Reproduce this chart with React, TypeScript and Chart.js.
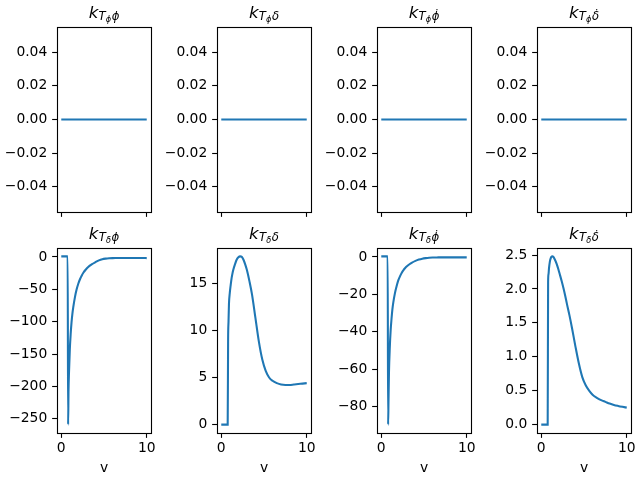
import React, { useEffect, useRef } from "react";
import { Chart, registerables } from "chart.js";

Chart.register(...registerables);

// ---------- data ----------
const V = [0, 0.5, 0.75, 0.8, 0.85, 0.9, 1.0, 1.1, 1.2, 1.3, 1.4, 1.6, 1.8, 2.0, 2.2, 2.4, 2.6, 2.8, 3.0, 3.3, 3.6, 4.0, 4.4, 4.8, 5.2, 5.6, 6.0, 6.5, 7.0, 7.5, 8.0, 8.5, 9.0, 9.5, 10];

const K_TPHI_PHI = [0, 0, 0, 0, 0, 0, 0, 0, 0, 0, 0, 0, 0, 0, 0, 0, 0, 0, 0, 0, 0, 0, 0, 0, 0, 0, 0, 0, 0, 0, 0, 0, 0, 0, 0];
const K_TPHI_DELTA = [0, 0, 0, 0, 0, 0, 0, 0, 0, 0, 0, 0, 0, 0, 0, 0, 0, 0, 0, 0, 0, 0, 0, 0, 0, 0, 0, 0, 0, 0, 0, 0, 0, 0, 0];
const K_TPHI_PHIDOT = [0, 0, 0, 0, 0, 0, 0, 0, 0, 0, 0, 0, 0, 0, 0, 0, 0, 0, 0, 0, 0, 0, 0, 0, 0, 0, 0, 0, 0, 0, 0, 0, 0, 0, 0];
const K_TPHI_DELTADOT = [0, 0, 0, 0, 0, 0, 0, 0, 0, 0, 0, 0, 0, 0, 0, 0, 0, 0, 0, 0, 0, 0, 0, 0, 0, 0, 0, 0, 0, 0, 0, 0, 0, 0, 0];

const K_TDELTA_PHI = [0.9, 0.9, 0.9, -259, -205, -180, -143, -119, -101, -88, -78, -62, -50, -41, -34, -28.5, -24, -20.5, -17.5, -13.8, -11, -8, -5.2, -3.4, -2.5, -2.0, -1.7, -1.6, -1.5, -1.5, -1.5, -1.5, -1.6, -1.6, -1.7];
const K_TDELTA_DELTA = [0, 0, 0, 9.0, 11.0, 12.8, 14.0, 14.8, 15.5, 16.0, 16.4, 17.0, 17.5, 17.75, 17.85, 17.8, 17.5, 17.0, 16.4, 15.2, 13.8, 11.3, 8.8, 6.9, 5.7, 5.0, 4.65, 4.4, 4.25, 4.2, 4.2, 4.25, 4.3, 4.35, 4.4];
const K_TDELTA_PHIDOT = [0.3, 0.3, 0.3, -89.5, -76, -62, -48, -39, -33, -28, -24.5, -19.3, -15.5, -12.4, -10.2, -8.4, -7.0, -5.9, -5.0, -3.9, -3.0, -2.1, -1.4, -0.9, -0.6, -0.4, -0.3, -0.25, -0.2, -0.2, -0.2, -0.2, -0.2, -0.2, -0.2];
const K_TDELTA_DELTADOT = [0, 0, 0, 2.1, 2.22, 2.3, 2.4, 2.45, 2.475, 2.48, 2.475, 2.43, 2.37, 2.29, 2.2, 2.11, 2.01, 1.9, 1.78, 1.61, 1.42, 1.15, 0.9, 0.7, 0.58, 0.5, 0.44, 0.395, 0.36, 0.335, 0.31, 0.29, 0.275, 0.262, 0.25];

const X_TICKS = [0, 10];
const TOP_Y_TICKS = [-0.04, -0.02, 0, 0.02, 0.04];
const P1_Y_TICKS = [-250, -200, -150, -100, -50, 0];
const P2_Y_TICKS = [0, 5, 10, 15];
const P3_Y_TICKS = [-80, -60, -40, -20, 0];
const P4_Y_TICKS = [0, 0.5, 1.0, 1.5, 2.0, 2.5];

const T_SUBS = ["ϕ", "δ"];
const TAILS = ["ϕ", "δ", "ϕ̇", "δ̇"];
const X_LABEL = "v";

// ---------- layout constants ----------
const FONT = '"DejaVu Sans", "Liberation Sans", sans-serif';
const TICK_SIZE = 13.89;
const TITLE_SIZE = 16.67;
const COLOR = "#1f77b4";
const LINE_W = 2.08;
const SPINE_W = 1.11;
const YW = 57; // y axis area width
const AW = 94; // plot width
const AH = 185; // plot height
const PR = 9;
const COL_W = YW + AW + PR; // 160

type PanelDef = {
  y: number[];
  ticks: number[];
  dec: number;
  row: number;
  col: number;
};

const PANELS: PanelDef[] = [
  { y: K_TPHI_PHI, ticks: TOP_Y_TICKS, dec: 2, row: 0, col: 0 },
  { y: K_TPHI_DELTA, ticks: TOP_Y_TICKS, dec: 2, row: 0, col: 1 },
  { y: K_TPHI_PHIDOT, ticks: TOP_Y_TICKS, dec: 2, row: 0, col: 2 },
  { y: K_TPHI_DELTADOT, ticks: TOP_Y_TICKS, dec: 2, row: 0, col: 3 },
  { y: K_TDELTA_PHI, ticks: P1_Y_TICKS, dec: 0, row: 1, col: 0 },
  { y: K_TDELTA_DELTA, ticks: P2_Y_TICKS, dec: 0, row: 1, col: 1 },
  { y: K_TDELTA_PHIDOT, ticks: P3_Y_TICKS, dec: 0, row: 1, col: 2 },
  { y: K_TDELTA_DELTADOT, ticks: P4_Y_TICKS, dec: 1, row: 1, col: 3 },
];

const ROWS = [
  { canvasTop: 0, pt: 27, xh: 20 },
  { canvasTop: 218, pt: 30, xh: 47 },
];

function fmt(v: number, dec: number) {
  const s = v.toFixed(dec);
  return s.startsWith("-") ? "\u2212" + s.slice(1) : s;
}

function PanelChart({ def }: { def: PanelDef }) {
  const ref = useRef<HTMLCanvasElement>(null);
  const rowCfg = ROWS[def.row];
  const H = rowCfg.pt + AH + rowCfg.xh;

  useEffect(() => {
    const canvas = ref.current;
    if (!canvas) return;
    let lo = Math.min(...def.y);
    let hi = Math.max(...def.y);
    if (lo === hi) {
      lo -= 0.05;
      hi += 0.05;
    }
    const m = (hi - lo) * 0.05;
    const tSub = T_SUBS[def.row];
    const tail = TAILS[def.col];

    const framePlugin = {
      id: "frame",
      afterDatasetsDraw(chart: any) {
        const { left, top, right, bottom } = chart.chartArea;
        const ctx = chart.ctx;
        ctx.save();
        ctx.strokeStyle = "#000";
        ctx.lineWidth = SPINE_W;
        const l = Math.floor(left) + 0.5;
        const t = Math.floor(top) + 0.5;
        ctx.strokeRect(l, t, Math.floor(right) - Math.floor(left), Math.floor(bottom) - Math.floor(top));
        ctx.restore();
      },
    };

    const titlePlugin = {
      id: "mathTitle",
      afterDraw(chart: any) {
        const { left, right, top } = chart.chartArea;
        const ctx = chart.ctx;
        const s0 = TITLE_SIZE;
        const s1 = s0 * 0.7;
        const s2 = s1 * 0.7;
        const parts = [
          { t: "k", size: s0, dy: 0, gap: 0.3 },
          { t: "T", size: s1, dy: 2.5, gap: 0 },
          { t: tSub, size: s2, dy: 4.8, gap: 0.6 },
          { t: tail, size: s1, dy: 2.5, gap: 0 },
        ];
        ctx.save();
        ctx.fillStyle = "#000";
        ctx.textBaseline = "alphabetic";
        ctx.textAlign = "left";
        let total = 0;
        const widths = parts.map((p) => {
          ctx.font = `italic ${p.size}px ${FONT}`;
          const w = ctx.measureText(p.t).width;
          total += w + p.gap;
          return w;
        });
        let x = (left + right) / 2 - total / 2;
        const base = top - 9.5;
        parts.forEach((p, i) => {
          ctx.font = `italic ${p.size}px ${FONT}`;
          ctx.fillText(p.t, x, base + p.dy);
          x += widths[i] + p.gap;
        });
        ctx.restore();
      },
    };

    const gridOpts = {
      drawOnChartArea: false,
      drawTicks: true,
      tickLength: 4.86,
      tickWidth: SPINE_W,
      tickColor: "#000",
    };

    const chart = new Chart(canvas, {
      type: "line",
      data: {
        datasets: [
          {
            data: V.map((v, i) => ({ x: v, y: def.y[i] })),
            borderColor: COLOR,
            borderWidth: LINE_W,
            pointRadius: 0,
            fill: false,
            cubicInterpolationMode: "monotone",
          },
        ],
      },
      options: {
        animation: false,
        responsive: false,
        devicePixelRatio: 1,
        layout: { padding: { top: rowCfg.pt, right: PR, left: 0, bottom: 0 } },
        plugins: {
          legend: { display: false },
          tooltip: { enabled: false },
          title: { display: false },
        },
        scales: {
          x: {
            type: "linear",
            min: -0.5,
            max: 10.5,
            afterBuildTicks: (s: any) => {
              s.ticks = X_TICKS.map((v) => ({ value: v }));
            },
            afterFit: (s: any) => {
              s.height = rowCfg.xh;
            },
            ticks: {
              autoSkip: false,
              maxRotation: 0,
              color: "#000",
              padding: 2,
              font: { family: FONT, size: TICK_SIZE },
              callback: (v: any) => (def.row === 1 ? fmt(Number(v), 0) : ""),
            },
            grid: gridOpts,
            border: { display: false },
            title: {
              display: def.row === 1,
              text: X_LABEL,
              color: "#000",
              font: { family: FONT, size: TICK_SIZE },
              padding: { top: 0, bottom: 3.7 },
            },
          },
          y: {
            type: "linear",
            min: lo - m,
            max: hi + m,
            afterBuildTicks: (s: any) => {
              s.ticks = def.ticks.map((v) => ({ value: v }));
            },
            afterFit: (s: any) => {
              s.width = YW;
            },
            ticks: {
              autoSkip: false,
              color: "#000",
              padding: 4.86,
              font: { family: FONT, size: TICK_SIZE },
              callback: (v: any) => fmt(Number(v), def.dec),
            },
            grid: gridOpts,
            border: { display: false },
          },
        },
      },
      plugins: [framePlugin, titlePlugin],
    } as any);
    return () => chart.destroy();
  }, []);

  return (
    <canvas
      ref={ref}
      width={COL_W}
      height={H}
      style={{
        position: "absolute",
        left: def.col * COL_W,
        top: rowCfg.canvasTop,
        width: COL_W,
        height: H,
        display: "block",
      }}
    />
  );
}

export default function App() {
  return (
    <div
      style={{
        position: "absolute",
        left: 0,
        top: 0,
        width: 640,
        height: 480,
        background: "#fff",
        overflow: "hidden",
      }}
    >
      {PANELS.map((p, i) => (
        <PanelChart key={i} def={p} />
      ))}
    </div>
  );
}
